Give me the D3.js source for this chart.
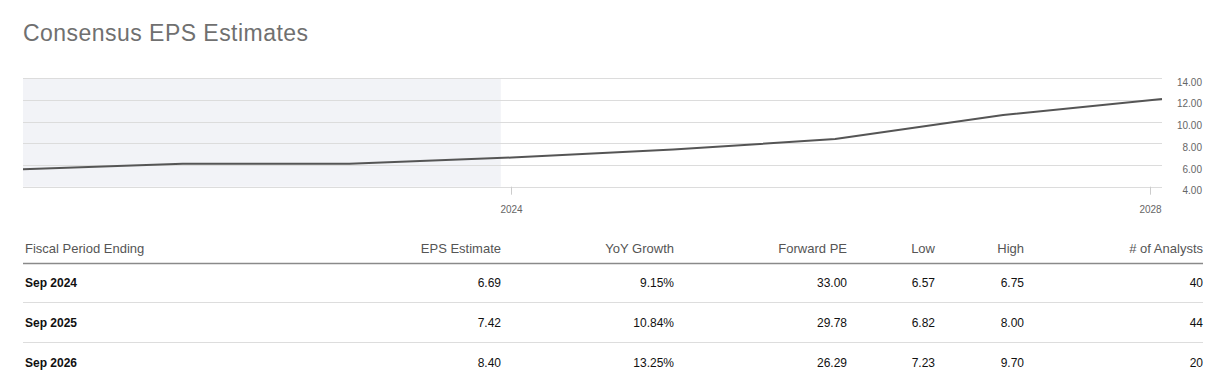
<!DOCTYPE html>
<html>
<head>
<meta charset="utf-8">
<script src="https://cdn.jsdelivr.net/npm/d3@7"></script>
<style>
  html, body { margin: 0; padding: 0; background: #fff; }
  svg { display: block; font-family: "Liberation Sans", Arial, sans-serif; }
</style>
</head>
<body>
<svg id="chart" width="1225" height="382"></svg>
<script>
// ---- Data ----
const title = "Consensus EPS Estimates";
const lineDates = ["2020-12-12", "2021-12-12", "2022-12-28", "2024-01-03", "2025-01-06", "2026-01-11", "2027-01-30", "2028-01-28"];
const lineValues = [5.60, 6.12, 6.12, 6.69, 7.42, 8.40, 10.61, 12.08];
const domainStart = "2020-12-12";
const domainEnd = "2028-01-28";
const shadeEnd = "2023-12-09";
const yTicks = [4, 6, 8, 10, 12, 14];
const xTicks = ["2024-01-01", "2028-01-01"];

const tableHeaders = ["Fiscal Period Ending", "EPS Estimate", "YoY Growth", "Forward PE", "Low", "High", "# of Analysts"];
const periods = ["Sep 2024", "Sep 2025", "Sep 2026"];
const epsEstimates = ["6.69", "7.42", "8.40"];
const yoyGrowth = ["9.15%", "10.84%", "13.25%"];
const forwardPE = ["33.00", "29.78", "26.29"];
const lows = ["6.57", "6.82", "7.23"];
const highs = ["6.75", "8.00", "9.70"];
const analysts = ["40", "44", "20"];

// ---- Drawing ----
const svg = d3.select("#chart");
const parse = d3.timeParse("%Y-%m-%d");

svg.append("text")
  .attr("x", 23).attr("y", 41)
  .attr("font-size", 23).attr("fill", "#707070")
  .attr("textLength", 285).attr("lengthAdjust", "spacing")
  .text(title);

const x = d3.scaleTime()
  .domain([parse(domainStart), parse(domainEnd)])
  .range([23, 1162]);
const y = d3.scaleLinear().domain([4, 14]).range([186.7, 78.2]);

// shaded historical region
svg.append("rect")
  .attr("x", x.range()[0]).attr("y", y(14))
  .attr("width", x(parse(shadeEnd)) - x.range()[0])
  .attr("height", y(4) - y(14))
  .attr("fill", "#f2f3f7");

// gridlines
svg.append("g").selectAll("line").data(yTicks).join("line")
  .attr("x1", x.range()[0]).attr("x2", x.range()[1])
  .attr("y1", d => Math.round(y(d)) + 0.5).attr("y2", d => Math.round(y(d)) + 0.5)
  .attr("stroke", "#dcdcdc").attr("stroke-width", 1);

// y labels
svg.append("g").selectAll("text").data(yTicks).join("text")
  .attr("x", 1202).attr("y", d => y(d) + 4)
  .attr("text-anchor", "end")
  .attr("dominant-baseline", "central")
  .attr("font-size", 10).attr("fill", "#666")
  .text(d => d3.format(".2f")(d));

// x axis ticks
const xt = svg.append("g").selectAll("g").data(xTicks).join("g")
  .attr("transform", d => `translate(${Math.round(x(parse(d))) + 0.5},0)`);
xt.append("line").attr("y1", y(4)).attr("y2", y(4) + 8)
  .attr("stroke", "#ccc");
xt.append("text").attr("y", 209).attr("text-anchor", "middle")
  .attr("dominant-baseline", "central")
  .attr("font-size", 10).attr("fill", "#666")
  .text(d => d3.timeFormat("%Y")(parse(d)));

// line
const pts = lineDates.map((d, i) => [parse(d), lineValues[i]]);
svg.append("path")
  .datum(pts)
  .attr("fill", "none")
  .attr("stroke", "#555")
  .attr("stroke-width", 2)
  .attr("stroke-linejoin", "round")
  .attr("d", d3.line().x(d => x(d[0])).y(d => y(d[1])));

// ---- Table ----
const colX = [25, 501, 674, 847, 935, 1024, 1203];
const colAnchor = ["start", "end", "end", "end", "end", "end", "end"];
const headerY = 248;
const rowY = [283, 323, 363];

svg.append("g").selectAll("text").data(tableHeaders).join("text")
  .attr("x", (d, i) => colX[i]).attr("y", headerY)
  .attr("text-anchor", (d, i) => colAnchor[i])
  .attr("dominant-baseline", "central")
  .attr("font-size", 13).attr("fill", "#555")
  .text(d => d);

svg.append("line")
  .attr("x1", 23).attr("x2", 1203).attr("y1", 263.5).attr("y2", 263.5)
  .attr("stroke", "#8a8a8a").attr("stroke-width", 1.5);

const dividerY = [302.5, 342.5];
svg.append("g").selectAll("line").data(dividerY).join("line")
  .attr("x1", 23).attr("x2", 1203).attr("y1", d => d).attr("y2", d => d)
  .attr("stroke", "#dddddd").attr("stroke-width", 1);

const rows = periods.map((p, i) => [p, epsEstimates[i], yoyGrowth[i], forwardPE[i], lows[i], highs[i], analysts[i]]);
const rowG = svg.append("g").selectAll("g").data(rows).join("g")
  .attr("transform", (d, i) => `translate(0,${rowY[i]})`);
rowG.selectAll("text").data(d => d).join("text")
  .attr("x", (d, i) => colX[i]).attr("y", 0)
  .attr("text-anchor", (d, i) => colAnchor[i])
  .attr("dominant-baseline", "central")
  .attr("font-size", 12)
  .attr("font-weight", (d, i) => i === 0 ? "bold" : "normal")
  .attr("fill", "#111")
  .text(d => d);
</script>
</body>
</html>
